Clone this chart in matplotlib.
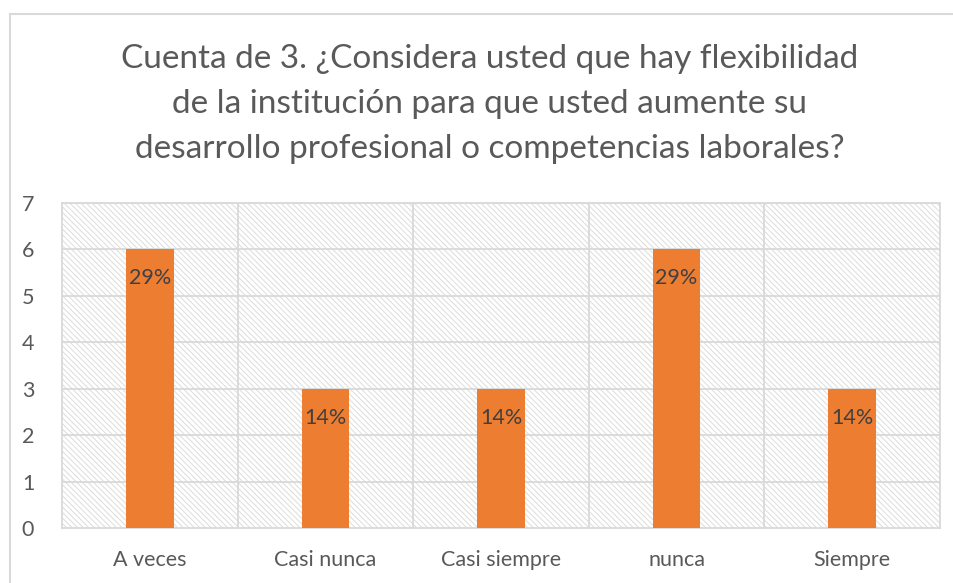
import matplotlib
matplotlib.use("Agg")
import matplotlib.pyplot as plt
from matplotlib.patches import Rectangle
from matplotlib.lines import Line2D

categories = ["A veces", "Casi nunca", "Casi siempre", "nunca", "Siempre"]
counts = [6, 3, 3, 6, 3]
pct_labels = ["29%", "14%", "14%", "29%", "14%"]
yticks = [0, 1, 2, 3, 4, 5, 6, 7]
title = ("Cuenta de 3. ¿Considera usted que hay flexibilidad\n"
         "de la institución para que usted aumente su\n"
         "desarrollo profesional o competencias laborales?")

plt.rcParams['font.family'] = ['Lato', 'DejaVu Sans']
plt.rcParams['hatch.linewidth'] = 0.7
grid_c = '#d9d9d9'
text_c = '#595959'

W, H = 954, 583
fig = plt.figure(figsize=(W/100, H/100), dpi=100)
fig.patch.set_facecolor('white')

# chart-area border (top and left visible)
fig.add_artist(Line2D([10/W, 10/W], [0, 1 - 13.5/H], transform=fig.transFigure, color=grid_c, lw=1.5))
fig.add_artist(Line2D([10/W, 1], [1 - 13.5/H, 1 - 13.5/H], transform=fig.transFigure, color=grid_c, lw=1.5))

left, right, top, bottom = 62, 940, 203, 528
ax = fig.add_axes([left/W, 1 - bottom/H, (right-left)/W, (bottom-top)/H])
ax.set_facecolor('white')
ax.add_patch(Rectangle((0, 0), 1, 1, transform=ax.transAxes, facecolor='white',
                       edgecolor='#dcdcdc', hatch='\\\\\\\\\\\\', lw=0, zorder=0))

x = list(range(len(categories)))
bars = ax.bar(x, counts, width=0.27, color='#ED7D31', zorder=3)
for xi, v, lab in zip(x, counts, pct_labels):
    ax.text(xi, v - 0.62, lab, ha='center', va='center', fontsize=15.5, color='#404040', zorder=4)

ax.set_xlim(-0.5, len(categories) - 0.5)
ax.set_ylim(0, 7)
ax.set_yticks(yticks)
ax.set_xticks(x)
ax.set_xticklabels(categories)
for yv in yticks[1:]:
    ax.axhline(yv, color=grid_c, lw=1.3, zorder=1)
for b in range(1, len(categories)):
    ax.axvline(b - 0.5, color=grid_c, lw=1.3, zorder=1)
for s in ax.spines.values():
    s.set_color(grid_c)
    s.set_linewidth(1.3)
ax.tick_params(axis='both', length=0, colors=text_c, labelsize=15.5)
ax.tick_params(axis='y', pad=20)
ax.tick_params(axis='x', pad=16)

fig.text(490/W, 1 - 104/H, title, ha='center', va='center', fontsize=24,
         color=text_c, linespacing=1.62)

fig.savefig('out.png', dpi=100)
